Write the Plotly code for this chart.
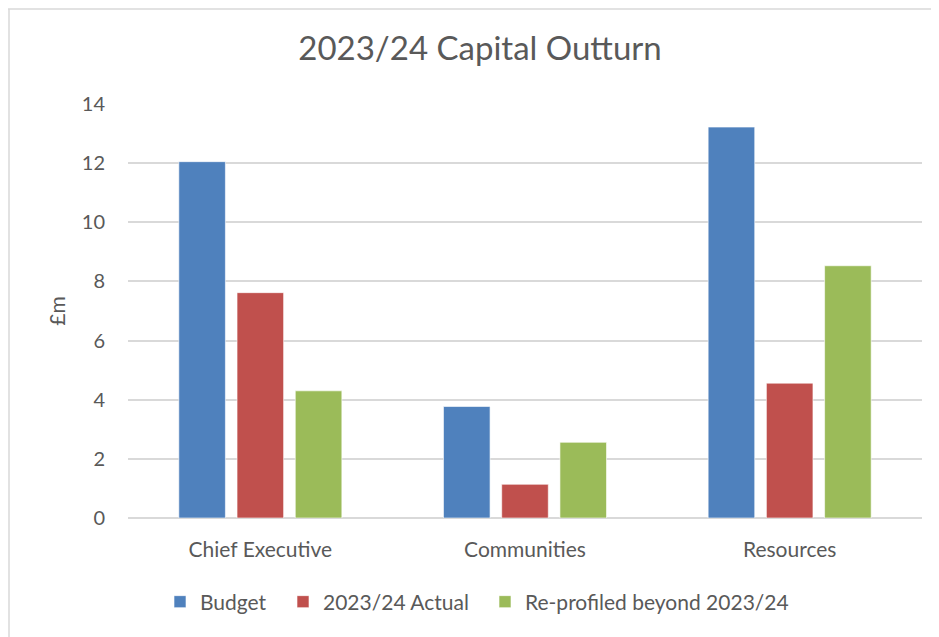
import plotly.graph_objects as go

categories = ["Chief Executive", "Communities", "Resources"]
budget = [12.05, 3.77, 13.22]
actual = [7.62, 1.14, 4.56]
reprofiled = [4.30, 2.56, 8.53]
series_names = ["Budget", "2023/24 Actual", "Re-profiled beyond 2023/24"]
colors = ["#4F81BD", "#C0504D", "#9BBB59"]
y_ticks = [0, 2, 4, 6, 8, 10, 12, 14]

# page has an 8px body margin; figure coordinates = page coordinates - 8
OFF = 8
W, H = 939 - OFF, 637 - OFF
L, T = 128 - OFF, 104 - OFF
R, B = W - (922 - OFF), H - (518 - OFF)
pw, ph = W - L - R, H - T - B

FONT = "Lato"
TXT = "#595959"

def px_x(page_x):
    return (page_x - OFF - L) / pw

def px_y(page_y):
    return (H - B - (page_y - OFF)) / ph

legend_names = ["legend", "legend2", "legend3"]
legend_left = [160, 283, 485]  # page x of each legend block

fig = go.Figure()
for name, vals, col, lg in zip(series_names, [budget, actual, reprofiled], colors, legend_names):
    fig.add_trace(go.Bar(
        x=categories, y=vals, name=name, legend=lg, showlegend=True,
        marker=dict(color=col, line=dict(color="rgba(255,255,255,0.6)", width=1)),
    ))

legend_common = dict(orientation="h", xanchor="left", yanchor="middle",
                     font=dict(family=FONT, size=21, color=TXT),
                     itemwidth=30, bgcolor="rgba(0,0,0,0)")

layout_legends = {}
for lg, lx in zip(legend_names, legend_left):
    layout_legends[lg] = dict(legend_common, x=px_x(lx), y=px_y(602), visible=True)

fig.update_layout(
    width=W, height=H,
    showlegend=True,
    margin=dict(l=L, r=R, t=T, b=B),
    paper_bgcolor="white", plot_bgcolor="white",
    barmode="group", bargap=0.34, bargroupgap=0.2,
    title=dict(text="2023/24 Capital Outturn", x=(480 - OFF) / W, xanchor="center",
               y=1 - (48 - OFF) / H, yanchor="middle",
               font=dict(family=FONT, size=33, color=TXT)),
    font=dict(family=FONT, color=TXT),
    xaxis=dict(showgrid=False, showline=False, ticks="",
               tickfont=dict(family=FONT, size=21, color=TXT),
               ticklabelstandoff=17),
    yaxis=dict(range=[0, 14], tickvals=y_ticks, showgrid=True,
               gridcolor="#D9D9D9", gridwidth=1.5, zeroline=True,
               zerolinecolor="#D9D9D9", zerolinewidth=1.5,
               showline=False, ticks="",
               tickfont=dict(family=FONT, size=20, color=TXT),
               ticklabelstandoff=22,
               title=dict(text="£m", font=dict(family=FONT, size=21, color=TXT),
                          standoff=10)),
    shapes=[
        dict(type="line", xref="paper", yref="paper",
             x0=-L / pw, x1=(W - L) / pw,
             y0=(ph + T - 1) / ph, y1=(ph + T - 1) / ph,
             line=dict(color="#D9D9D9", width=1.5)),
        dict(type="line", xref="paper", yref="paper",
             x0=(1 - L) / pw, x1=(1 - L) / pw,
             y0=-B / ph, y1=(ph + T - 1) / ph,
             line=dict(color="#D9D9D9", width=1.5)),
    ],
    **layout_legends,
)

fig.write_html("out.html")
